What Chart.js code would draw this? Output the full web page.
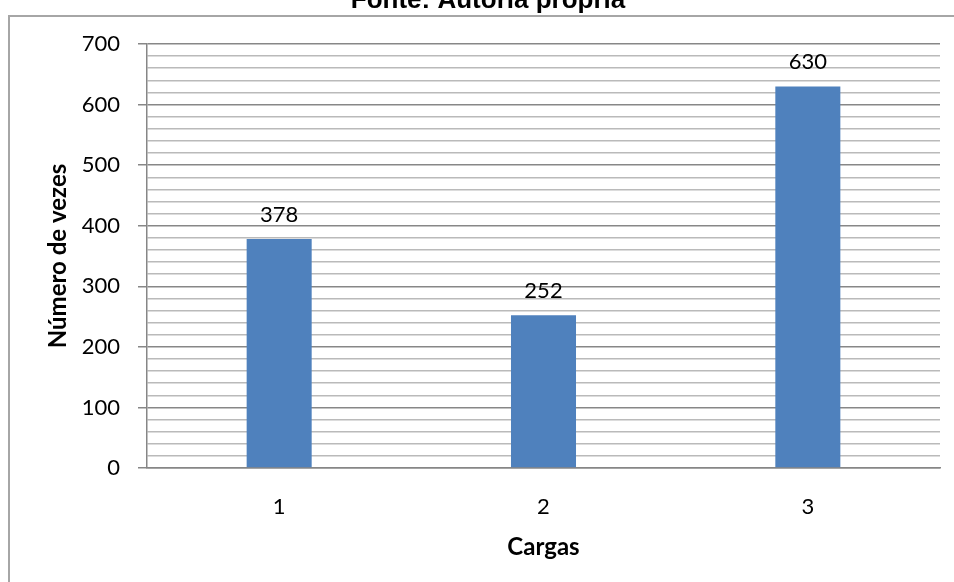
<!DOCTYPE html>
<html>
<head>
<meta charset="utf-8">
<script src="https://cdn.jsdelivr.net/npm/chart.js@4/dist/chart.umd.min.js"></script>
<style>
  html, body { margin: 0; padding: 0; background: #ffffff; }
  #wrap { width: 954px; height: 582px; position: relative; }
</style>
</head>
<body>
<div id="wrap"><canvas id="chart" width="954" height="582"></canvas></div>
<script>
// Categories (x axis) and values (y axis)
const categories = ['1', '2', '3'];
const loads = [378, 252, 630];
// Value-axis range, labelled major ticks and the minor gridline step
const yMin = 0;
const yMax = 700;
const yMajorTicks = [0, 100, 200, 300, 400, 500, 600, 700];
const yMinorStep = 20;

const captionText = 'Fonte: Autoria própria';
const xTitle = 'Cargas';
const yTitle = 'Número de vezes';

const TICK_FONT = { family: 'Lato', size: 22 };
const TITLE_FONT = { family: 'Lato', size: 24, weight: 'bold' };
const MAJOR_GRID = '#878787';
const MINOR_GRID = '#bababa';

const isMajor = v => yMajorTicks.includes(v);

// Frame around the chart and the caption text above it
const framePlugin = {
  id: 'frame',
  beforeDraw(chart) {
    const ctx = chart.ctx;
    ctx.save();
    ctx.fillStyle = '#ffffff';
    ctx.fillRect(0, 0, chart.width, chart.height);
    ctx.strokeStyle = '#a6a6a6';
    ctx.lineWidth = 2;
    ctx.beginPath();
    ctx.moveTo(9, chart.height);
    ctx.lineTo(9, 16);
    ctx.lineTo(chart.width, 16);
    ctx.stroke();
    ctx.fillStyle = '#000000';
    ctx.font = 'bold 26px "Liberation Sans", Arial, sans-serif';
    ctx.textAlign = 'center';
    ctx.textBaseline = 'alphabetic';
    ctx.fillText(captionText, 488, 8);
    ctx.restore();
  }
};

// Value labels above each bar
const valueLabels = {
  id: 'valueLabels',
  afterDatasetsDraw(chart) {
    const ctx = chart.ctx;
    const meta = chart.getDatasetMeta(0);
    const data = chart.data.datasets[0].data;
    ctx.save();
    ctx.fillStyle = '#000000';
    ctx.font = `${TICK_FONT.size}px ${TICK_FONT.family}`;
    ctx.textAlign = 'center';
    ctx.textBaseline = 'alphabetic';
    meta.data.forEach((bar, i) => {
      ctx.fillText(String(data[i]), bar.x, bar.y - 17);
    });
    ctx.restore();
  }
};

new Chart(document.getElementById('chart'), {
  type: 'bar',
  data: {
    labels: categories,
    datasets: [{
      data: loads,
      backgroundColor: '#4f81bd',
      borderWidth: 0,
      categoryPercentage: 1,
      barPercentage: 0.246
    }]
  },
  options: {
    responsive: false,
    animation: false,
    devicePixelRatio: 1,
    layout: { padding: { top: 44, right: 14, left: 0, bottom: 0 } },
    plugins: {
      legend: { display: false },
      tooltip: { enabled: false },
      title: { display: false }
    },
    scales: {
      x: {
        grid: { display: true, drawOnChartArea: false, drawTicks: false, color: 'rgba(0,0,0,0)' },
        border: { display: true, color: '#868686', width: 1.5 },
        ticks: { font: TICK_FONT, color: '#000000', padding: 26 },
        title: { display: true, text: xTitle, font: TITLE_FONT, color: '#000000', padding: { top: 0, bottom: 20 } },
        afterFit(scale) { scale.height = 114; }
      },
      y: {
        min: yMin,
        max: yMax,
        // one gridline every minor step; only the hundreds carry a label
        afterBuildTicks(scale) {
          const ticks = [];
          for (let v = yMin; v <= yMax; v += yMinorStep) ticks.push({ value: v });
          scale.ticks = ticks;
        },
        ticks: {
          font: TICK_FONT,
          color: '#000000',
          padding: 18,
          autoSkip: false,
          callback: v => (isMajor(v) ? String(v) : '')
        },
        grid: {
          color: c => (isMajor(c.tick.value) ? MAJOR_GRID : MINOR_GRID),
          tickColor: c => (isMajor(c.tick.value) ? MAJOR_GRID : 'rgba(0,0,0,0)'),
          lineWidth: 1.5,
          tickLength: 9
        },
        border: { display: true, color: '#868686', width: 1.5 },
        title: { display: true, text: yTitle, font: TITLE_FONT, color: '#000000', padding: { top: 44, bottom: 0 } },
        afterFit(scale) { scale.width = 147; }
      }
    }
  },
  plugins: [framePlugin, valueLabels]
});
</script>
</body>
</html>
